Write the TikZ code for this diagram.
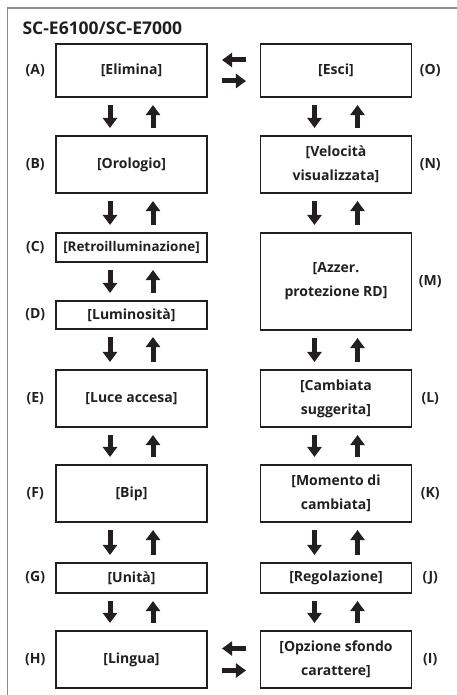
\documentclass[tikz,border=0pt]{standalone}
\usepackage{fontspec}
\setmainfont{Open Sans}
\usetikzlibrary{positioning,arrows.meta}

\definecolor{ink}{HTML}{231F20}
\definecolor{framegray}{HTML}{8C8C8C}

\begin{document}
\begin{tikzpicture}[
    x=1pt, y=-1pt,
    font=\bfseries\fontsize{14}{24}\selectfont,
    text=ink,
    menu/.style={draw=ink, line width=1.1pt, minimum width=151pt, minimum height=#1, align=center, inner sep=0pt},
    menu/.default=57pt,
    tag/.style={inner sep=0pt, minimum width=24pt},
    blk/.style={-{Triangle[length=10pt,width=14pt]}, line width=5pt, draw=ink}
]
\useasboundingbox (0,0) rectangle (456,695);
\draw[framegray, line width=1.5pt] (7.5,700) -- (7.5,8) -- (460,8);

\node[anchor=base west, font=\bfseries\fontsize{17.5}{20}\selectfont] (title) at (19,35) {SC-E6100/SC-E7000};

% left column
\node[menu=53pt] (elimina) at (131.5,70.5) {[Elimina]};
\node[menu] (orologio) at (131.5,164.5) {[Orologio]};
\node[menu=29pt, font=\bfseries\fontsize{13.4}{24}\selectfont] (retro) at (131.5,247.5) {[Retroilluminazione]};
\node[menu=28pt] (lumi) at (131.5,315) {[Luminosità]};
\node[menu] (luce) at (131.5,398.5) {[Luce accesa]};
\node[menu] (bip) at (131.5,493.5) {[Bip]};
\node[menu=30pt] (unita) at (131.5,578) {[Unità]};
\node[menu] (lingua) at (131.5,659.5) {[Lingua]};

% right column
\node[menu=53pt] (esci) at (336,70.5) {[Esci]};
\node[menu] (velocita) at (336,164.5) {[Velocità\\visualizzata]};
\node[menu=97pt] (azzer) at (336,281.5) {[Azzer.\\protezione RD]};
\node[menu] (cambiata) at (336,398.5) {[Cambiata\\suggerita]};
\node[menu] (momento) at (336,493.5) {[Momento di\\cambiata]};
\node[menu=30pt] (regolazione) at (336,578) {[Regolazione]};
\node[menu] (opzione) at (336,659.5) {[Opzione sfondo\\carattere]};

% letters
\node[tag, left=8pt of elimina] (la) {(A)};
\node[tag, left=8pt of orologio] (lb) {(B)};
\node[tag, left=8pt of retro] (lc) {(C)};
\node[tag, left=8pt of lumi] (ld) {(D)};
\node[tag, left=8pt of luce] (le) {(E)};
\node[tag, left=8pt of bip] (lf) {(F)};
\node[tag, left=8pt of unita] (lg) {(G)};
\node[tag, left=8pt of lingua] (lh) {(H)};
\node[tag, right=6pt of opzione] (li) {(I)};
\node[tag, right=6pt of regolazione] (lj) {(J)};
\node[tag, right=6pt of momento] (lk) {(K)};
\node[tag, right=6pt of cambiata] (ll) {(L)};
\node[tag, right=6pt of azzer] (lm) {(M)};
\node[tag, right=6pt of velocita] (ln) {(N)};
\node[tag, right=6pt of esci] (lo) {(O)};

% up/down pairs
\foreach \a/\b in {elimina/orologio, orologio/retro, retro/lumi, lumi/luce, luce/bip, bip/unita, unita/lingua,
                   esci/velocita, velocita/azzer, azzer/cambiata, cambiata/momento, momento/regolazione, regolazione/opzione} {
  \draw[blk] ([xshift=-21.5pt,yshift=-7.5pt]\a.south) -- ([xshift=-21.5pt,yshift=7.5pt]\b.north);
  \draw[blk] ([xshift=21.5pt,yshift=7.5pt]\b.north) -- ([xshift=21.5pt,yshift=-7.5pt]\a.south);
}

% left/right pairs
\draw[blk] ([xshift=-14pt,yshift=10.5pt]esci.west) -- ([xshift=14.5pt,yshift=10.5pt]elimina.east);
\draw[blk] ([xshift=14.5pt,yshift=-10.5pt]elimina.east) -- ([xshift=-14pt,yshift=-10.5pt]esci.west);
\draw[blk] ([xshift=-14pt,yshift=11pt]opzione.west) -- ([xshift=14.5pt,yshift=11pt]lingua.east);
\draw[blk] ([xshift=14.5pt,yshift=-11pt]lingua.east) -- ([xshift=-14pt,yshift=-11pt]opzione.west);
\end{tikzpicture}
\end{document}
